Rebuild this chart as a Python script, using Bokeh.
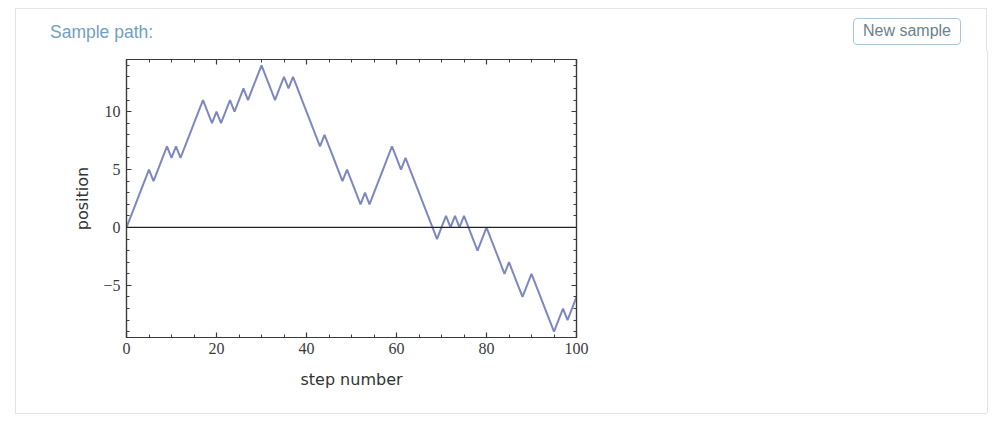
from bokeh.plotting import figure
from bokeh.models import LinearAxis, FixedTicker, Span, Range1d, Div
from bokeh.layouts import column, row
from bokeh.embed import file_html
from bokeh.resources import INLINE

# ---- data ----
steps = list(range(101))
positions = [0, 1, 2, 3, 4, 5, 4, 5, 6, 7, 6, 7, 6, 7, 8, 9, 10, 11, 10, 9,
             10, 9, 10, 11, 10, 11, 12, 11, 12, 13, 14, 13, 12, 11, 12, 13, 12, 13, 12, 11,
             10, 9, 8, 7, 8, 7, 6, 5, 4, 5, 4, 3, 2, 3, 2, 3, 4, 5, 6, 7,
             6, 5, 6, 5, 4, 3, 2, 1, 0, -1, 0, 1, 0, 1, 0, 1, 0, -1, -2, -1,
             0, -1, -2, -3, -4, -3, -4, -5, -6, -5, -4, -5, -6, -7, -8, -9, -8, -7, -8, -7,
             -6]
x_major = [0, 20, 40, 60, 80, 100]
x_minor = [v for v in range(0, 101, 5) if v % 20]
y_major = [-5, 0, 5, 10]
y_minor = [v for v in range(-9, 15) if v % 5]
title_text = "Sample path:"
button_text = "New sample"
x_label = "step number"
y_label = "position"

W, H = 1000, 426
HEADER_H = 51
FOOTER_Y = 413
LEFT_W = 16
RIGHT_X = 987
FL, FR, FT, FB = 126, 576, 59, 337   # frame edges in page pixels
PANEL = "#e3e3e3"

fig_w = RIGHT_X - LEFT_W
fig_h = FOOTER_Y - HEADER_H

p = figure(width=fig_w, height=fig_h, output_backend="svg", toolbar_location=None,
           x_range=Range1d(0, 100), y_range=Range1d(-9.5, 14.5),
           min_border_left=FL - LEFT_W, min_border_top=FT - HEADER_H,
           min_border_bottom=FOOTER_Y - FB, min_border_right=RIGHT_X - FR, margin=0)
p.xaxis.visible = False
p.yaxis.visible = False
p.grid.visible = False
p.outline_line_color = "#3a3a3a"
p.outline_line_width = 1.2
p.background_fill_color = "white"
p.border_fill_color = "white"

tick_font = "Liberation Serif"
lab_font = "DejaVu Sans"

def style(ax):
    ax.axis_line_color = "#3a3a3a"
    ax.axis_line_width = 1.2
    ax.major_tick_in = 5
    ax.major_tick_out = 0
    ax.minor_tick_in = 3
    ax.minor_tick_out = 0
    ax.major_tick_line_color = "#3a3a3a"
    ax.minor_tick_line_color = "#3a3a3a"
    ax.major_tick_line_width = 1.2
    ax.minor_tick_line_width = 1
    ax.major_label_text_font = tick_font
    ax.major_label_text_font_size = "16px"
    ax.major_label_text_color = "#3a3a3a"
    ax.axis_label_text_font = lab_font
    ax.axis_label_text_font_size = "16px"
    ax.axis_label_text_font_style = "normal"
    ax.axis_label_text_color = "#333333"

xt = FixedTicker(ticks=x_major, minor_ticks=x_minor)
yt = FixedTicker(ticks=y_major, minor_ticks=y_minor)

xb = LinearAxis(ticker=xt, axis_label=x_label, major_label_standoff=5, axis_label_standoff=13)
style(xb)
xa = LinearAxis(ticker=xt, major_label_overrides={v: "" for v in x_major}, major_label_standoff=0)
style(xa)
yl = LinearAxis(ticker=yt, axis_label=y_label, major_label_standoff=6, axis_label_standoff=8,
                major_label_overrides={-5: "\u22125"})
style(yl)
yr = LinearAxis(ticker=yt, major_label_overrides={v: "" for v in y_major}, major_label_standoff=0)
style(yr)
p.add_layout(xb, "below")
p.add_layout(xa, "above")
p.add_layout(yl, "left")
p.add_layout(yr, "right")

p.add_layout(Span(location=0, dimension="width", line_color="#222222", line_width=1.2))
p.line(steps, positions, line_color="#7d87c2", line_width=2)

header_html = f"""
<div style="position:relative;width:{W}px;height:{HEADER_H}px;margin:0;padding:0;">
  <div style="position:absolute;left:15px;top:8px;width:972px;height:{HEADER_H - 8}px;
       border-top:1px solid {PANEL};border-left:1px solid {PANEL};border-right:1px solid {PANEL};
       box-sizing:border-box;"></div>
  <div style="position:absolute;left:50px;top:22px;font-family:'Liberation Sans';
       font-size:17.5px;line-height:20px;color:#729fc0;white-space:nowrap;">{title_text}</div>
  <div style="position:absolute;left:853px;top:18px;width:108px;height:27px;box-sizing:border-box;
       border:1.5px solid #a9c7da;border-radius:4px;background:white;
       font-family:'Liberation Sans';font-size:16px;line-height:24px;color:#6c7f8c;
       text-align:center;white-space:nowrap;">{button_text}</div>
</div>
"""
header = Div(text=header_html, width=W, height=HEADER_H, margin=0)

left_div = Div(text=f'<div style="width:{LEFT_W}px;height:{fig_h}px;box-sizing:border-box;'
                    f'border-right:1px solid {PANEL};margin-left:0;"></div>',
               width=LEFT_W, height=fig_h, margin=0)
right_div = Div(text=f'<div style="width:{W - RIGHT_X}px;height:{fig_h}px;box-sizing:border-box;'
                     f'border-left:1px solid {PANEL};"></div>',
                width=W - RIGHT_X, height=fig_h, margin=0)
footer = Div(text=f'<div style="position:relative;width:{W}px;height:{H - FOOTER_Y}px;">'
                  f'<div style="position:absolute;left:15px;top:0;width:972px;height:1px;'
                  f'background:{PANEL};"></div></div>',
             width=W, height=H - FOOTER_Y, margin=0)

layout = column(header, row(left_div, p, right_div, spacing=0, margin=0), footer,
                spacing=0, margin=0)

open("out.html", "w").write(file_html(layout, INLINE))
